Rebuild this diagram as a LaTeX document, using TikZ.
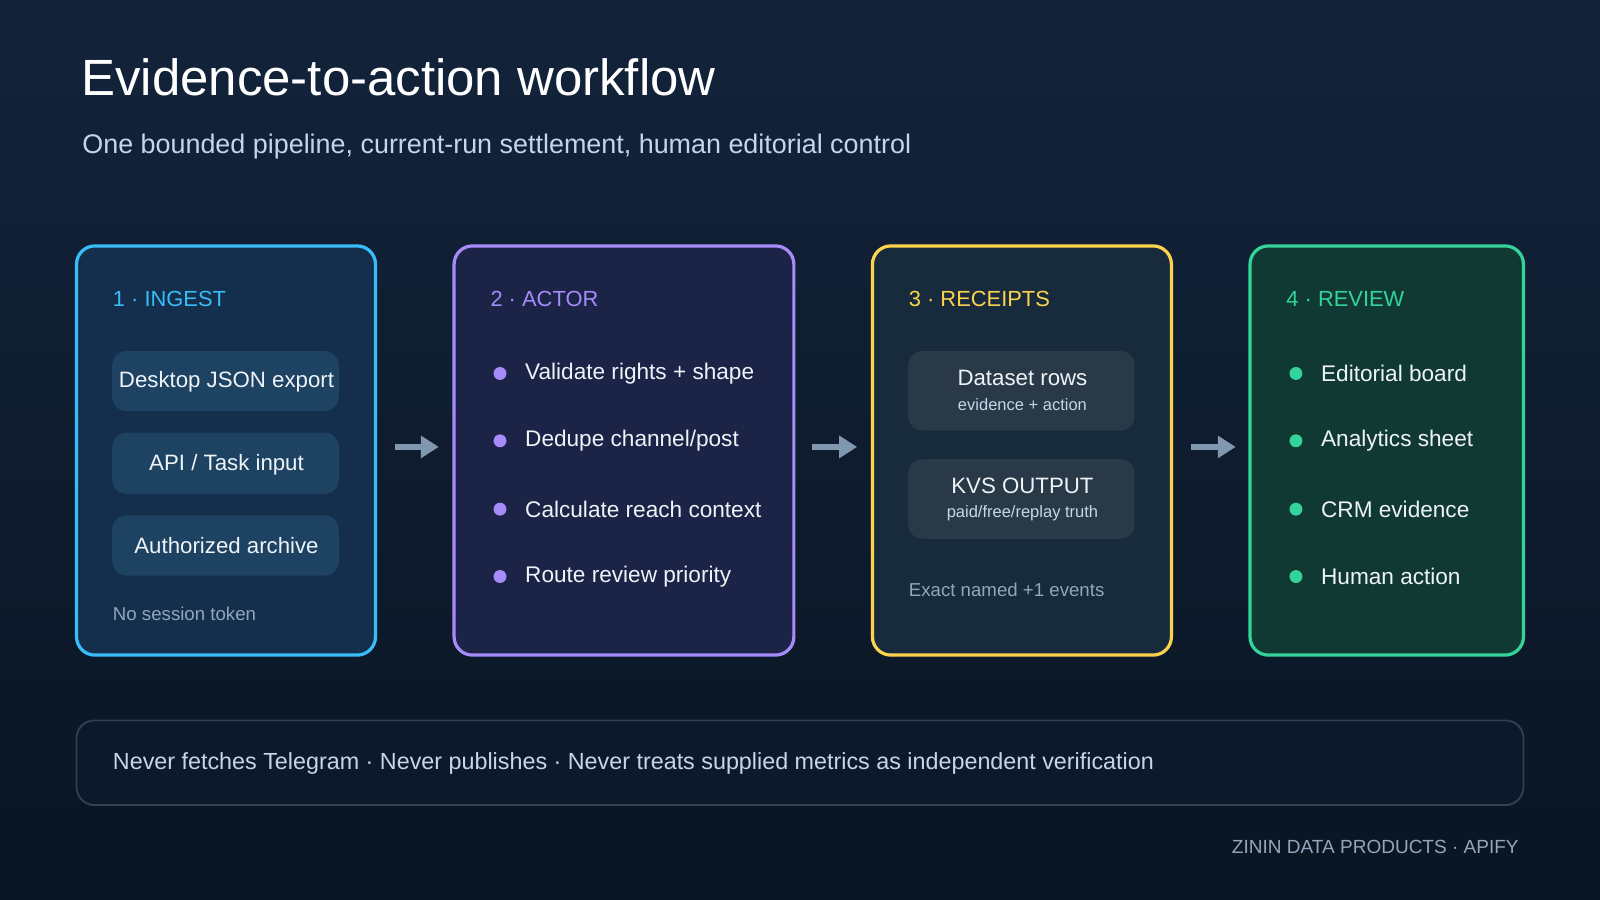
\documentclass[tikz,border=0pt]{standalone}
\usepackage{fontspec}
\setmainfont{Liberation Sans}
\usetikzlibrary{arrows.meta}
\definecolor{bgA}{HTML}{13233A}\definecolor{bgB}{HTML}{0A1523}
\definecolor{cBlue}{HTML}{38BDF8}\definecolor{fBlue}{HTML}{132F4B}\definecolor{pBlue}{HTML}{1E4262}
\definecolor{cPur}{HTML}{A78BFA}\definecolor{fPur}{HTML}{1B2446}
\definecolor{cAmb}{HTML}{FCD34D}\definecolor{fAmb}{HTML}{172B3D}\definecolor{pAmb}{HTML}{293947}
\definecolor{cGrn}{HTML}{34D399}\definecolor{fGrn}{HTML}{113934}
\definecolor{txt}{HTML}{EEF3F8}\definecolor{sub}{HTML}{C5D6EA}\definecolor{mut}{HTML}{93A6BB}
\definecolor{arr}{HTML}{7F97AF}
\newcommand{\fs}[1]{\fontsize{#1pt}{#1pt}\selectfont}
\tikzset{x=0.01cm,y=-0.01cm,
 card/.style={rounded corners=18pt*0.2845,line width=0.9pt},
 pill/.style={rounded corners=4pt,draw=none},
 head/.style={anchor=west,inner sep=0pt,font=\fs{6.1}},
 item/.style={anchor=west,inner sep=0pt,font=\fs{6.3},text=txt},
 dot/.style={circle,inner sep=0pt,minimum size=3.6pt},
 ar/.style={-{Triangle[length=5pt,width=6pt]},line width=1.8pt,draw=arr}}
\begin{document}
\begin{tikzpicture}
\shade[top color=bgA,bottom color=bgB] (0,0) rectangle (1568,882);
\useasboundingbox (0,0) rectangle (1568,882);
\node[anchor=west,inner sep=0pt,text=white,font=\fs{14.2}] (title) at (79,76) {Evidence-to-action workflow};
\node[anchor=west,inner sep=0pt,text=sub,font=\fs{7.5}] (subt) at (80,144) {One bounded pipeline, current-run settlement, human editorial control};
% cards
\draw[card,draw=cBlue,fill=fBlue] (75,241) rectangle (368,642);
\draw[card,draw=cPur,fill=fPur] (445,241) rectangle (778,642);
\draw[card,draw=cAmb,fill=fAmb] (855,241) rectangle (1148,642);
\draw[card,draw=cGrn,fill=fGrn] (1225,241) rectangle (1493,642);
% card 1
\node[head,text=cBlue] (h1) at (110,293) {1 · INGEST};
\fill[pill,fill=pBlue] (110,344) rectangle (332,403);
\fill[pill,fill=pBlue] (110,424) rectangle (332,484);
\fill[pill,fill=pBlue] (110,505) rectangle (332,564);
\node[text=txt,font=\fs{6.2}] (p1) at (222,374) {Desktop JSON export};
\node[text=txt,font=\fs{6.2}] (p2) at (222,455) {API / Task input};
\node[text=txt,font=\fs{6.2}] (p3) at (222,535) {Authorized archive};
\node[anchor=west,inner sep=0pt,text=mut,font=\fs{5.2}] (n1) at (110,602) {No session token};
% card 2
\node[head,text=cPur] (h2) at (480,293) {2 · ACTOR};
\foreach \y/\t [count=\i] in {366/{Validate rights + shape},432/{Dedupe channel/post},499/{Calculate reach context},565/{Route review priority}}{
 \node[dot,fill=cPur] (d2\i) at (490,\y) {};
 \node[item] (t2\i) at (514,\y) {\t};}
% card 3
\node[head,text=cAmb] (h3) at (890,293) {3 · RECEIPTS};
\fill[pill,fill=pAmb] (890,344) rectangle (1112,422);
\fill[pill,fill=pAmb] (890,450) rectangle (1112,528);
\node[text=txt,font=\fs{6.2}] (q1) at (1002,370) {Dataset rows};
\node[text=sub,font=\fs{4.6}] (q1s) at (1002,397) {evidence + action};
\node[text=txt,font=\fs{6.2}] (q2) at (1002,476) {KVS OUTPUT};
\node[text=sub,font=\fs{4.6}] (q2s) at (1002,503) {paid/free/replay truth};
\node[anchor=west,inner sep=0pt,text=mut,font=\fs{5.2}] (n3) at (890,578) {Exact named +1 events};
% card 4
\node[head,text=cGrn] (h4) at (1260,293) {4 · REVIEW};
\foreach \y/\t [count=\i] in {366/{Editorial board},432/{Analytics sheet},499/{CRM evidence},565/{Human action}}{
 \node[dot,fill=cGrn] (d4\i) at (1270,\y) {};
 \node[item] (t4\i) at (1294,\y) {\t};}
% arrows
\coordinate (a1) at (387,438);\coordinate (b1) at (430,438);
\coordinate (a2) at (796,438);\coordinate (b2) at (840,438);
\coordinate (a3) at (1167,438);\coordinate (b3) at (1211,438);
\draw[ar] (a1)--(b1);\draw[ar] (a2)--(b2);\draw[ar] (a3)--(b3);
% bottom bar
\draw[rounded corners=5pt,draw=white!13!bgA,fill=bgB!70!bgA,line width=0.5pt] (75,706) rectangle (1493,789);
\node[anchor=west,inner sep=0pt,text=sub,font=\fs{6.5}] (foot) at (110,748) {Never fetches Telegram · Never publishes · Never treats supplied metrics as independent verification};
\node[anchor=east,inner sep=0pt,text=mut,font=\fs{5.3}] (brand) at (1489,830) {ZININ DATA PRODUCTS · APIFY};
\end{tikzpicture}
\end{document}
